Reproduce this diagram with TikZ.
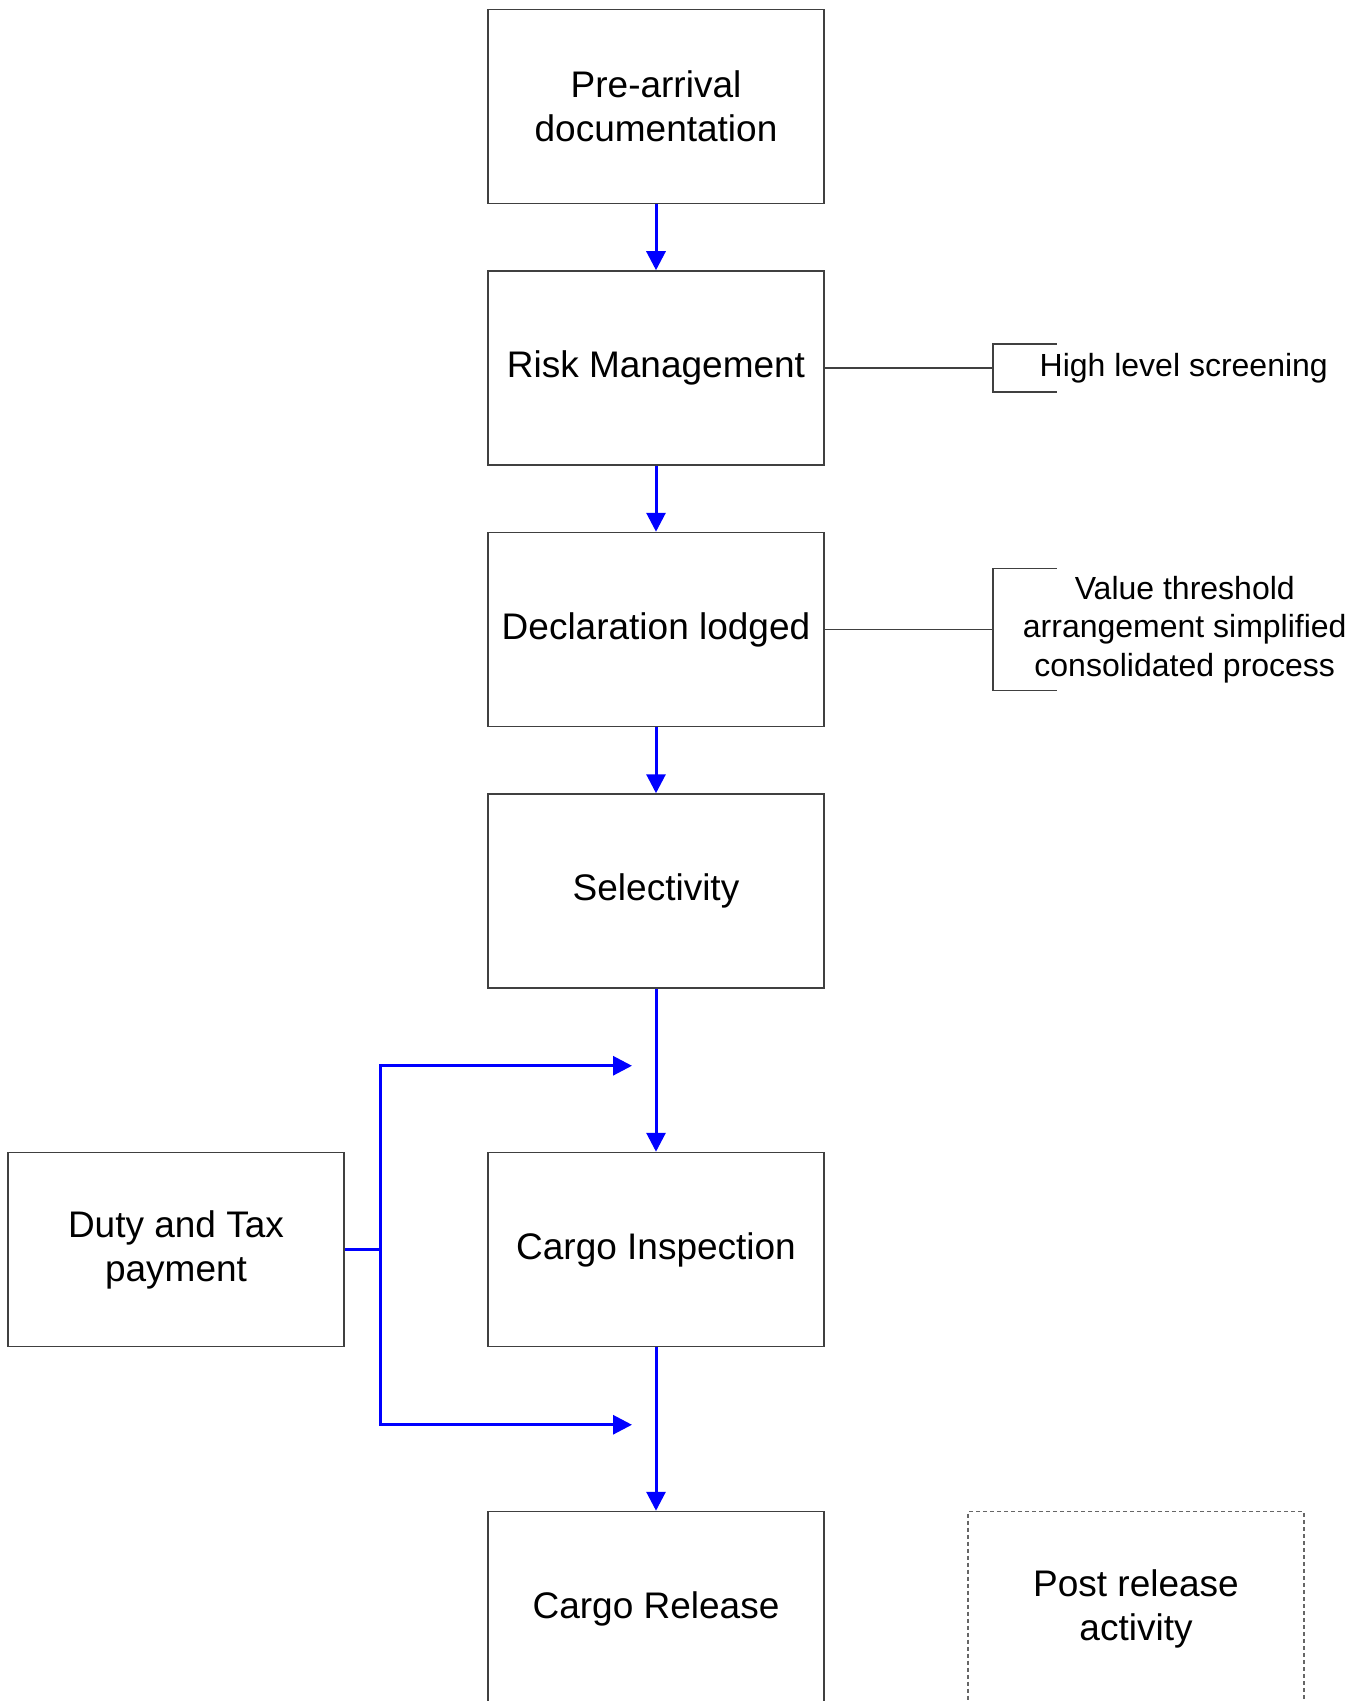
\documentclass[tikz,border=0pt]{standalone}
\usepackage{fontspec}
\setmainfont{Liberation Sans}
\usetikzlibrary{arrows.meta,positioning}

\begin{document}
\begin{tikzpicture}
			[node distance=130.75pt,on grid,auto,
			>={Triangle[width=9.5pt,length=9.5pt]},
			stage/.style={rectangle,draw=black!75,line width=0.75pt,inner sep=0pt,minimum width=168pt,minimum height=97pt,align=center,font=\fontsize{18.5pt}{22pt}\selectfont},
			later/.style={stage,draw=black!60,dash pattern=on 2pt off 1.5pt},
			flow/.style={draw=blue,line width=1.5pt},
			pre/.style={flow,<-},
			post/.style={flow,->},
			bracket/.style={draw=black!75,line width=0.75pt},
			note/.style={align=center,font=\fontsize{16pt}{19.2pt}\selectfont}]
			
			\useasboundingbox (0,0) rectangle (683.5pt,-850.5pt);
			
			\node [stage](pa) at (328pt,-53.25pt)            {Pre-arrival\\documentation};
			\node [stage](rm) [below=of pa]                   {Risk Management}
				edge             [pre] (pa);
			\node [stage](dl) [below=of rm]                   {Declaration lodged}
				edge             [pre] (rm);
			\node [stage](sel) [below=of dl]                  {Selectivity}
				edge             [pre] (dl);
			\node [stage](ci) [below=179.25pt of sel]         {Cargo Inspection}
				edge             [pre] (sel);
			\node [stage](cr) [below=179.5pt of ci]           {Cargo Release}
				edge             [pre] (ci);
			
			\node [stage](duty) [left=240pt of ci]            {Duty and Tax\\payment};
			\node [later](prs) [right=240pt of cr]            {Post release\\activity};
			
			% payment feeds both stages
			\coordinate [right=18pt of duty.east] (jn);
			\coordinate [above=43pt of ci.north, xshift=-12pt] (ptop);
			\coordinate [above=43pt of cr.north, xshift=-12pt] (pbot);
			\draw [flow] (duty.east) -- (jn);
			\draw [post] (jn) |- (ptop);
			\draw [post] (jn) |- (pbot);
			
			% side notes
			\coordinate [right=84pt of rm.east] (hlsb);
			\draw [bracket] (rm.east) -- (hlsb);
			\draw [bracket] ([xshift=32pt,yshift=12pt]hlsb) -- ([yshift=12pt]hlsb)
				-- ([yshift=-12pt]hlsb) -- ([xshift=32pt,yshift=-12pt]hlsb);
			\node [note](hls) [right=95.5pt of hlsb, anchor=center] {High level screening};
			
			\coordinate [right=84pt of dl.east] (vtab);
			\draw [bracket] (dl.east) -- (vtab);
			\draw [bracket] ([xshift=32pt,yshift=30.5pt]vtab) -- ([yshift=30.5pt]vtab)
				-- ([yshift=-30.5pt]vtab) -- ([xshift=32pt,yshift=-30.5pt]vtab);
			\node [note](vta) [right=96pt of vtab, anchor=center] {Value threshold\\arrangement simplified\\consolidated process};
			
			\end{tikzpicture}
\end{document}
